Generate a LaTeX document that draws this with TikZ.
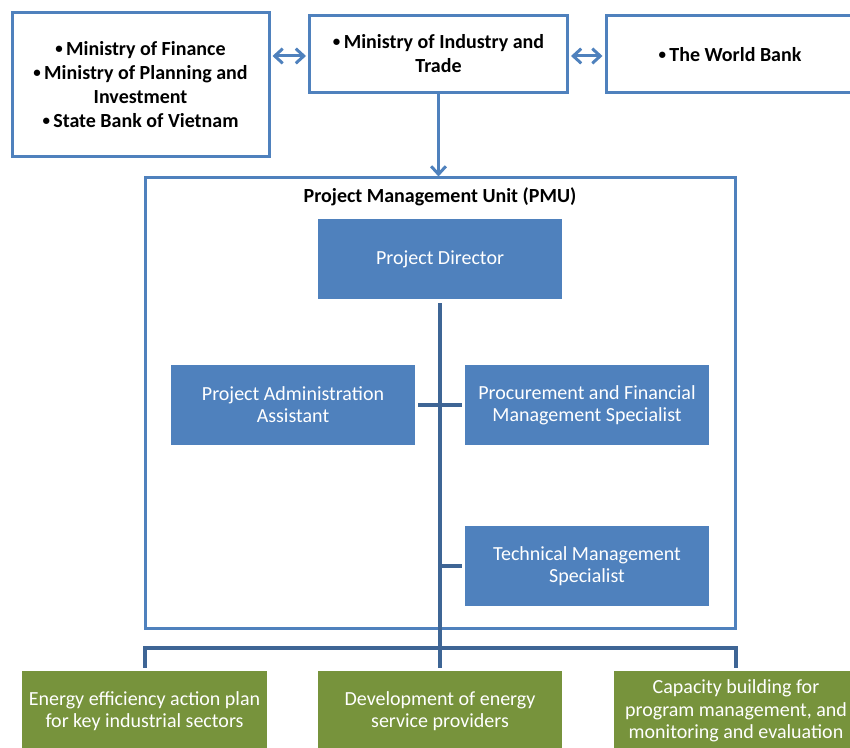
\documentclass[tikz,border=0pt]{standalone}
\usepackage{fontspec}
\setmainfont{Carlito}
\usetikzlibrary{arrows.meta,calc}
\definecolor{bluebd}{HTML}{4F81BD}
\definecolor{darkln}{HTML}{3E6595}
\definecolor{greenf}{HTML}{77933C}
\newcommand{\mybul}{\raisebox{0.12em}{\scalebox{0.75}{\textbullet}}\,}
\begin{document}
\begin{tikzpicture}[x=0.75pt,y=-0.75pt,
  topbox/.style={draw=bluebd,line width=2.25pt,fill=white,inner sep=0pt,align=center,
    font=\fontsize{15}{18}\selectfont\bfseries},
  bluebox/.style={fill=bluebd,text=white,inner sep=0pt,align=center,minimum width=183pt,minimum height=60pt,
    font=\fontsize{15}{16.5}\selectfont},
  greenbox/.style={fill=greenf,text=white,inner sep=0pt,align=center,minimum height=60pt,
    font=\fontsize{15}{17}\selectfont},
  pmubox/.style={draw=bluebd,line width=2.25pt,inner sep=0pt},
  dblarrow/.style={draw=bluebd,line width=2.25pt,{Straight Barb[length=6pt,width=11pt]}-{Straight Barb[length=6pt,width=11pt]}},
  downarrow/.style={draw=bluebd,line width=2.25pt,-{Straight Barb[length=6pt,width=11pt]}},
  conn/.style={draw=darkln,line width=3pt},
]
\useasboundingbox (0,0) rectangle (850,748);
% top row
\node[topbox,minimum width=192.75pt,minimum height=108pt] (mof) at (140.5,84.5)
  {\mybul Ministry of Finance\\ \mybul Ministry of Planning and\\ Investment\\ \mybul State Bank of Vietnam};
\node[topbox,minimum width=193.5pt,minimum height=57.75pt] (moit) at (438.5,54)
  {\mybul Ministry of Industry and\\ Trade};
\node[topbox,minimum width=186pt,minimum height=57.75pt] (wb) at (730,54.5)
  {\mybul The World Bank};
% PMU
\node[pmubox,minimum width=442.5pt,minimum height=337.5pt] (pmu) at (440,403) {};
\node[font=\fontsize{15}{18}\selectfont\bfseries] (pmut) at (440,197) {Project Management Unit (PMU)};
\node[bluebox] (pd) at (440,259) {Project Director};
\node[bluebox] (paa) at (293,405) {Project Administration\\ Assistant};
\node[bluebox] (pfms) at (587,405) {Procurement and Financial\\ Management Specialist};
\node[bluebox] (tms) at (587,566) {Technical Management\\ Specialist};
% bottom
\node[greenbox,minimum width=183.75pt] (g1) at (144.5,711) {Energy efficiency action plan\\ for key industrial sectors};
\node[greenbox,minimum width=183pt] (g2) at (440,711) {Development of energy\\ service providers};
\node[greenbox,minimum width=183pt] (g3) at (736,711) {Capacity building for\\ program management, and\\ monitoring and evaluation};
% arrows
\draw[dblarrow] ([xshift=1.5pt]mof.east |- 0,56) coordinate (a1) -- ([xshift=-1.5pt]moit.west |- 0,56) coordinate (a2);
\draw[dblarrow] ([xshift=1.5pt]moit.east |- 0,56) coordinate (a3) -- ([xshift=-1.5pt]wb.west |- 0,56) coordinate (a4);
\draw[downarrow] (moit.south) -- (moit.south |- pmu.north);
% connectors
\draw[conn] ([yshift=-3pt]pd.south) -- ([yshift=2.25pt]g2.north);
\draw[conn] ([xshift=2.25pt]paa.east) -- ([xshift=-2.25pt]pfms.west);
\draw[conn] (pd.south |- tms.west) -- ([xshift=-2.25pt]tms.west);
\coordinate (bus) at (440,648);
\draw[conn] ([yshift=2.25pt]g1.north) |- (bus) -| ([yshift=2.25pt]g3.north);
\end{tikzpicture}
\end{document}
